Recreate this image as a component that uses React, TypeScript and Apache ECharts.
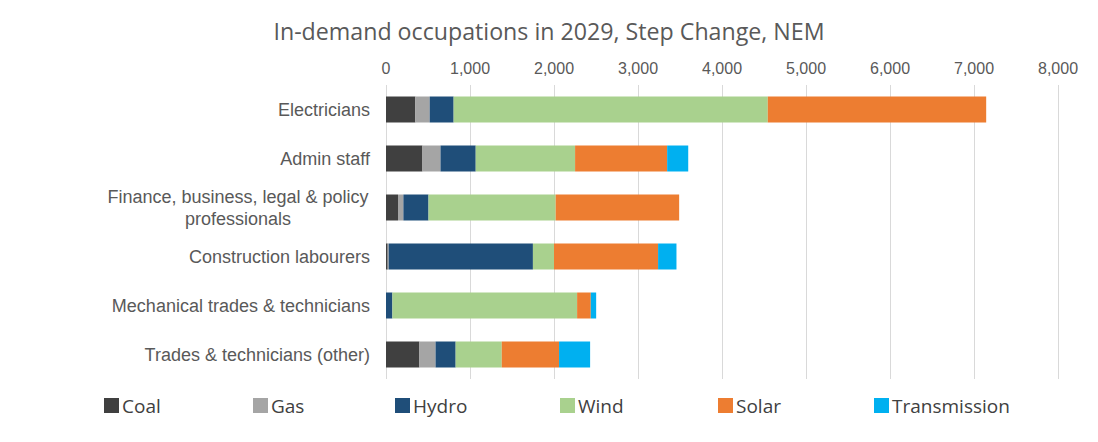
import React, { useEffect, useRef } from "react";
import * as echarts from "echarts";

const categories = [
  "Electricians",
  "Admin staff",
  "Finance, business, legal & policy professionals",
  "Construction labourers",
  "Mechanical trades & technicians",
  "Trades & technicians (other)",
];
const seriesNames = ["Coal", "Gas", "Hydro", "Wind", "Solar", "Transmission"];
const coal = [350, 434, 143, 20, 0, 398];
const gas = [170, 215, 64, 12, 0, 192];
const hydro = [285, 419, 299, 1717, 76, 239];
const wind = [3740, 1183, 1514, 251, 2199, 549];
const solar = [2600, 1096, 1470, 1239, 163, 682];
const transmission = [0, 251, 0, 219, 64, 370];
const colors = ["#404040", "#A5A5A5", "#1F4E79", "#A9D18E", "#ED7D31", "#00B0F0"];
const legendLeft = [104, 253, 395, 560, 718, 874];

const LABEL_FONT = '"Liberation Sans", Arial, sans-serif';
const LABEL_SIZE = 18;

function measure(text: string): number {
  const c = document.createElement("canvas").getContext("2d");
  if (!c) return text.length * 8;
  c.font = `${LABEL_SIZE}px ${LABEL_FONT}`;
  return Math.ceil(c.measureText(text).width);
}

export default function App() {
  const ref = useRef<HTMLDivElement>(null);
  useEffect(() => {
    document.body.style.margin = "0";
    if (!ref.current) return;
    const chart = echarts.init(ref.current, undefined, { renderer: "svg" });
    const values = [coal, gas, hydro, wind, solar, transmission];
    const line1 = "Finance, business, legal & policy";
    const line2 = "professionals";
    const w = measure(line1) + 2;
    chart.setOption({
      animation: false,
      title: {
        text: "In-demand occupations in 2029, Step Change, NEM",
        left: "center",
        top: 14,
        textStyle: {
          fontFamily: '"Open Sans", sans-serif',
          fontSize: 23.2,
          fontWeight: "normal",
          color: "#595959",
        },
      },
      legend: seriesNames.map((n, i) => ({
        data: [n],
        left: legendLeft[i],
        top: 396,
        padding: 0,
        icon: "rect",
        itemWidth: 15,
        itemHeight: 15,
        itemGap: 0,
        textStyle: {
          fontFamily: '"Open Sans", sans-serif',
          fontSize: 19,
          color: "#404040",
          padding: [0, 0, 0, -2],
        },
      })),
      grid: { left: 386, right: 40, top: 85, height: 294, containLabel: false },
      xAxis: {
        type: "value",
        position: "top",
        min: 0,
        max: 8000,
        interval: 1000,
        axisLine: { show: false },
        axisTick: { show: false },
        splitLine: { lineStyle: { color: "#D9D9D9", width: 1 } },
        axisLabel: {
          margin: 9,
          fontFamily: LABEL_FONT,
          fontSize: 16,
          color: "#595959",
          formatter: (v: number) => v.toLocaleString("en-US"),
        },
      },
      yAxis: {
        type: "category",
        inverse: true,
        data: categories,
        axisLine: { show: false },
        axisTick: { show: false },
        axisLabel: {
          margin: 16,
          fontFamily: LABEL_FONT,
          fontSize: LABEL_SIZE,
          color: "#595959",
          lineHeight: 22,
          formatter: (v: string) =>
            v === categories[2] ? `{c|${line1}}\n{c|${line2}}` : v,
          rich: {
            c: {
              width: w,
              align: "center",
              fontFamily: LABEL_FONT,
              fontSize: LABEL_SIZE,
              color: "#595959",
              lineHeight: 22,
            },
          },
        },
      },
      series: seriesNames.map((n, i) => ({
        name: n,
        type: "bar",
        stack: "total",
        barWidth: 26,
        itemStyle: { color: colors[i] },
        data: values[i],
      })),
    });
    return () => chart.dispose();
  }, []);
  return <div ref={ref} style={{ width: 1098, height: 442 }} />;
}
